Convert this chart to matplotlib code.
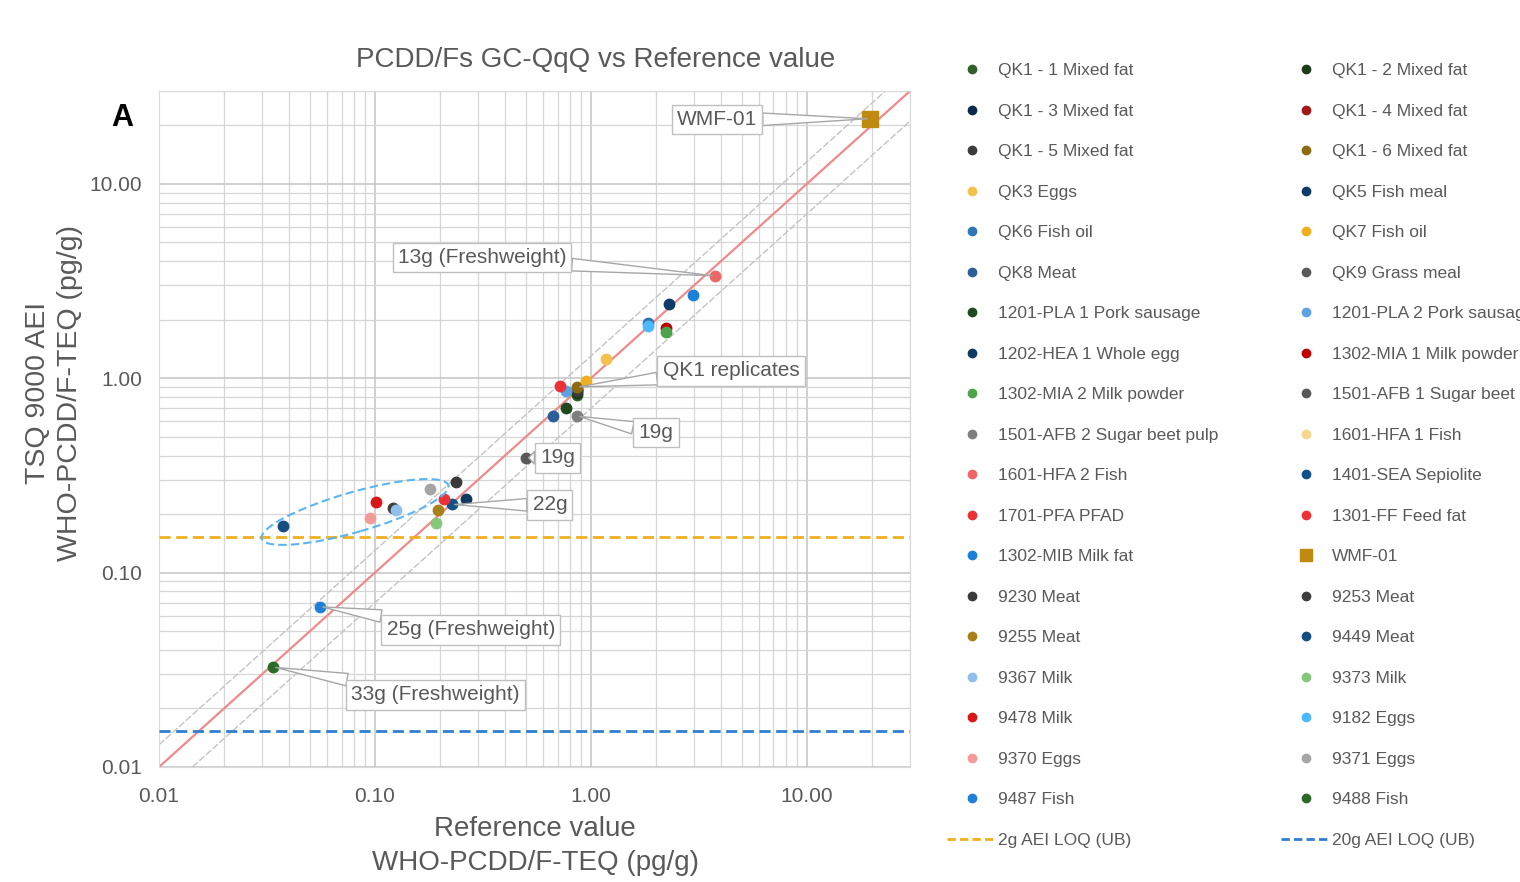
import numpy as np
import matplotlib
matplotlib.use('Agg')
import matplotlib.pyplot as plt
from matplotlib.lines import Line2D
from matplotlib.patches import Ellipse

plt.rcParams['font.family'] = ['Liberation Sans', 'DejaVu Sans']

# --- data ---
sample_names = [
    'QK1 - 1 Mixed fat', 'QK1 - 2 Mixed fat', 'QK1 - 3 Mixed fat', 'QK1 - 4 Mixed fat',
    'QK1 - 5 Mixed fat', 'QK1 - 6 Mixed fat', 'QK3 Eggs', 'QK5 Fish meal',
    'QK6 Fish oil', 'QK7 Fish oil', 'QK8 Meat', 'QK9 Grass meal',
    '1201-PLA 1 Pork sausage', '1201-PLA 2 Pork sausage', '1202-HEA 1 Whole egg',
    '1302-MIA 1 Milk powder', '1302-MIA 2 Milk powder', '1501-AFB 1 Sugar beet pulp',
    '1501-AFB 2 Sugar beet pulp', '1601-HFA 1 Fish', '1601-HFA 2 Fish',
    '1401-SEA Sepiolite', '1701-PFA PFAD', '1301-FF Feed fat', '1302-MIB Milk fat',
    'WMF-01', '9230 Meat', '9253 Meat', '9255 Meat', '9449 Meat', '9367 Milk',
    '9373 Milk', '9478 Milk', '9182 Eggs', '9370 Eggs', '9371 Eggs', '9487 Fish',
    '9488 Fish',
]
ref_values = [
    0.86, 0.86, 0.86, 0.86, 0.86, 0.86, 1.17, 2.30,
    1.84, 0.95, 0.67, np.nan,
    0.77, 0.77, 0.264,
    2.22, 2.22, 0.50,
    0.86, np.nan, 3.75,
    0.227, 0.72, 0.208, 2.97,
    19.6, 0.237, 0.121, 0.196, 0.0375, 0.125,
    0.192, 0.101, 1.84, 0.095, 0.18, 0.0556,
    0.0337,
]
tsq_values = [
    0.82, 0.84, 0.87, 0.88, 0.86, 0.90, 1.25, 2.41,
    1.92, 0.97, 0.64, np.nan,
    0.70, 0.86, 0.24,
    1.81, 1.73, 0.39,
    0.64, np.nan, 3.36,
    0.224, 0.91, 0.238, 2.68,
    21.6, 0.294, 0.216, 0.211, 0.173, 0.211,
    0.179, 0.23, 1.85, 0.192, 0.268, 0.0669,
    0.0327,
]
colors = [
    '#2f5f2a', '#1c3b19', '#0b2a4a', '#a01818', '#3b3b3b', '#8c6a10', '#f2c24f', '#0d3c6b',
    '#2e75b6', '#eeb020', '#2a5f9a', '#5a5a5a',
    '#1e4a1e', '#5ba3e0', '#0e3a60',
    '#c00000', '#4da34a', '#585858',
    '#7f7f7f', '#f5d88e', '#ee6666',
    '#12518a', '#ec3038', '#ec3038', '#1a80d8',
    '#c08a10', '#3a3a3a', '#3e3e3e', '#a8801a', '#154d80', '#8fc0ec',
    '#86c87a', '#d81818', '#4db8ff', '#f49a9a', '#a5a5a5', '#2080d8',
    '#2d6a2a',
]

loq_2g = 0.153
loq_20g = 0.0153
line_x = [0.01, 30]
ratio_limits = [0.7, 1.3]

# callouts: label, sample pointed at
callout_labels = ['WMF-01', '13g (Freshweight)', 'QK1 replicates', '19g', '19g',
                  '22g', '25g (Freshweight)', '33g (Freshweight)']
callout_targets = ['WMF-01', '1601-HFA 2 Fish', 'QK1 - 6 Mixed fat',
                   '1501-AFB 2 Sugar beet pulp', '1501-AFB 1 Sugar beet pulp',
                   '1401-SEA Sepiolite', '9487 Fish', '9488 Fish']
callout_text_pos = [(3.83, 21.4), (0.313, 4.17), (4.45, 1.09), (2.0, 0.524),
                    (0.70, 0.389), (0.645, 0.223), (0.278, 0.0507), (0.191, 0.0235)]

# --- figure ---
fig = plt.figure(figsize=(15.2, 8.82), dpi=100)
ax = fig.add_axes([159 / 1520, 115 / 882, 751 / 1520, 676 / 882])
ax.set_xscale('log')
ax.set_yscale('log')
ax.set_xlim(0.01, 30)
ax.set_ylim(0.01, 30)

ax.grid(True, which='major', color='#c4c4c4', linewidth=1.1)
ax.grid(True, which='minor', color='#d6d6d6', linewidth=0.9)
ax.set_axisbelow(True)
for s in ax.spines.values():
    s.set_color('#d9d9d9')
ax.tick_params(which='both', length=0, labelsize=15, labelcolor='#595959')
ax.tick_params(axis='y', pad=12)
ax.tick_params(axis='x', pad=14.5)
ticks = [0.01, 0.1, 1, 10]
ax.set_xticks(ticks)
ax.set_yticks(ticks)
ax.set_xticklabels(['%.2f' % t for t in ticks])
ax.set_yticklabels(['%.2f' % t for t in ticks])

# reference lines
ax.plot(line_x, line_x, color='#f08a8a', linewidth=1.6, zorder=2)
for r in ratio_limits:
    ax.plot(line_x, [v * r for v in line_x], color='#c4c4c4', linewidth=1.0,
            linestyle=(0, (5, 1.5)), zorder=2)

handles = []
for name, xv, yv, c in zip(sample_names, ref_values, tsq_values, colors):
    m = 's' if name == 'WMF-01' else 'o'
    ms = 11 if name == 'WMF-01' else 7.5
    ax.plot([xv], [yv], linestyle='none', marker=m, markersize=ms, color=c, zorder=4)
    handles.append(Line2D([], [], linestyle='none', marker=m,
                          markersize=8 if m == 's' else 6, color=c, label=name))

ax.axhline(loq_2g, color='#eeb020', linestyle=(0, (4, 2)), linewidth=2, zorder=3)
ax.axhline(loq_20g, color='#2e7fd0', linestyle=(0, (4, 2)), linewidth=2, zorder=3)
handles.append(Line2D([], [], color='#eeb020', linestyle=(0, (3, 1.5)), linewidth=2,
                      label='2g AEI LOQ (UB)'))
handles.append(Line2D([], [], color='#2e7fd0', linestyle=(0, (3, 1.5)), linewidth=2,
                      label='20g AEI LOQ (UB)'))

# callouts
for lab, tgt, pos in zip(callout_labels, callout_targets, callout_text_pos):
    i = sample_names.index(tgt)
    ax.annotate(lab, xy=(ref_values[i], tsq_values[i]), xytext=pos,
                ha='center', va='center', fontsize=15, color='#595959', zorder=6,
                bbox=dict(boxstyle='square,pad=0.25', fc='white', ec='#bfbfbf', lw=1),
                arrowprops=dict(arrowstyle='wedge,tail_width=0.6,shrink_factor=0.5',
                                fc='white', ec='#a6a6a6', lw=1, shrinkA=0, shrinkB=2))

# dashed ellipse around the low-level samples
ell = Ellipse((3.55, 3.70), 1.94, 0.40, angle=16, fill=False, ec='#5bb5f0',
              lw=1.5, linestyle=(0, (4, 2)), transform=fig.dpi_scale_trans, zorder=5)
fig.add_artist(ell)

# texts
fig.text(596 / 1520, 1 - 60 / 882, 'PCDD/Fs GC-QqQ vs Reference value', ha='center',
         va='center', fontsize=20, color='#595959')
fig.text(122 / 1520, 1 - 118 / 882, 'A', ha='center', va='center', fontsize=22,
         fontweight='bold', color='black')
fig.text(535 / 1520, 1 - 829 / 882, 'Reference value', ha='center', va='center',
         fontsize=20, color='#595959')
fig.text(535 / 1520, 1 - 863 / 882, 'WHO-PCDD/F-TEQ (pg/g)', ha='center', va='center',
         fontsize=20, color='#595959')
fig.text(38 / 1520, 1 - 393 / 882, 'TSQ 9000 AEI', ha='center', va='center',
         fontsize=20.5, color='#595959', rotation=90)
fig.text(70 / 1520, 1 - 393 / 882, 'WHO-PCDD/F-TEQ (pg/g)', ha='center', va='center',
         fontsize=20.5, color='#595959', rotation=90)

# legend, row-wise order in two columns
ordered = handles[0::2] + handles[1::2]
leg = fig.legend(handles=ordered, loc='upper left', bbox_to_anchor=(947 / 1520, 1 - 63 / 882),
                 ncol=2, frameon=False, fontsize=12.5, handlelength=2.9, handletextpad=0.05,
                 labelspacing=1.46, columnspacing=3.6, borderpad=0, borderaxespad=0)
for t in leg.get_texts():
    t.set_color('#595959')

fig.savefig('out.png', dpi=100)
